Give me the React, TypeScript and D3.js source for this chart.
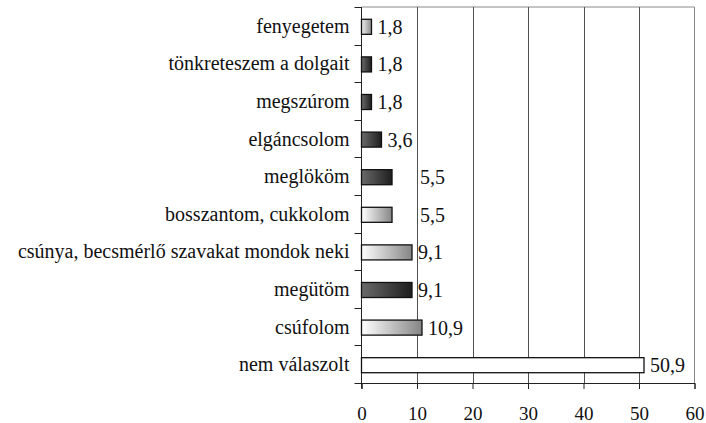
import { useRef, useEffect } from "react";
import { select, scaleLinear, scaleBand, axisBottom } from "d3";

const categories = [
  "fenyegetem",
  "tönkreteszem a dolgait",
  "megszúrom",
  "elgáncsolom",
  "meglököm",
  "bosszantom, cukkolom",
  "csúnya, becsmérlő szavakat mondok neki",
  "megütöm",
  "csúfolom",
  "nem válaszolt",
];
const values = [1.8, 1.8, 1.8, 3.6, 5.5, 5.5, 9.1, 9.1, 10.9, 50.9];
const valueLabels = ["1,8", "1,8", "1,8", "3,6", "5,5", "5,5", "9,1", "9,1", "10,9", "50,9"];
const xTicks = [0, 10, 20, 30, 40, 50, 60];

// fill style of each bar, as in the original
const shading = ["pale", "dark", "dark", "dark", "dark", "light", "light", "dark", "light", "white"];

// Excel pushed a couple of labels off to the right
const labelNudge: Record<string, number> = { meglököm: 22, "bosszantom, cukkolom": 22 };

const W = 706;
const H = 423;
const left = 361.5;
const right = 694.5;
const top = 7;
const bottom = 383;
const font = "'Times New Roman', Times, 'Liberation Serif', 'DejaVu Serif', serif";

function App() {
  const svgRef = useRef<SVGSVGElement>(null);

  useEffect(() => {
    const svg = select(svgRef.current);
    svg.selectAll("*").remove();

    const x = scaleLinear().domain([0, 60]).range([left, right]);
    const y = scaleBand().domain(categories).range([top, bottom]).paddingInner(0.6).paddingOuter(0.3);

    const defs = svg.append("defs");
    const grads: Record<string, [string, string]> = {
      pale: ["#f0f0f0", "#8c8c8c"],
      dark: ["#6a6a6a", "#1e1e1e"],
      light: ["#ffffff", "#858585"],
      white: ["#ffffff", "#ffffff"],
    };
    Object.entries(grads).forEach(([id, [c0, c1]]) => {
      const g = defs.append("linearGradient").attr("id", "g-" + id).attr("x1", "0%").attr("x2", "100%");
      g.append("stop").attr("offset", "0%").attr("stop-color", c0);
      g.append("stop").attr("offset", "100%").attr("stop-color", c1);
    });

    // frame: top & right in gray
    svg.append("line").attr("x1", left).attr("x2", right).attr("y1", top).attr("y2", top)
      .attr("stroke", "#8a8a8a").attr("stroke-width", 1);
    svg.append("line").attr("x1", right).attr("x2", right).attr("y1", top).attr("y2", bottom)
      .attr("stroke", "#8a8a8a").attr("stroke-width", 1);

    // vertical gridlines
    svg.selectAll(".grid")
      .data(xTicks.slice(1, -1))
      .join("line")
      .attr("class", "grid")
      .attr("x1", (d) => Math.round(x(d)) + 0.5)
      .attr("x2", (d) => Math.round(x(d)) + 0.5)
      .attr("y1", top)
      .attr("y2", bottom)
      .attr("stroke", "#505050");

    // x axis
    const xAxis = axisBottom(x).tickValues(xTicks).tickSize(6).tickPadding(18).tickFormat((d) => String(d));
    const gx = svg.append("g").attr("transform", `translate(0,${bottom})`).call(xAxis);
    gx.attr("font-family", font).attr("font-size", 19);
    gx.select(".domain").attr("stroke", "#222");
    gx.selectAll(".tick line").attr("stroke", "#222");
    gx.selectAll(".tick text").style("font-family", font).style("font-size", "19px").attr("fill", "#111");

    // y axis line + boundary ticks
    svg.append("line").attr("x1", left).attr("x2", left).attr("y1", top).attr("y2", bottom + 5)
      .attr("stroke", "#222");
    svg.selectAll(".ytick")
      .data(categories.map((_, i) => i).concat([categories.length]))
      .join("line")
      .attr("class", "ytick")
      .attr("x1", left - 7)
      .attr("x2", left)
      .attr("y1", (i) => Math.round(top + i * y.step()) + 0.5)
      .attr("y2", (i) => Math.round(top + i * y.step()) + 0.5)
      .attr("stroke", "#222");

    // category labels
    svg.selectAll(".cat")
      .data(categories)
      .join("text")
      .attr("class", "cat")
      .attr("x", left - 12)
      .attr("y", (d) => (y(d) as number) + y.bandwidth() / 2 + 7)
      .attr("text-anchor", "end")
      .style("font-family", font)
      .style("font-size", "20px")
      .attr("fill", "#111")
      .text((d) => d);

    // bars
    svg.selectAll(".bar")
      .data(values)
      .join("rect")
      .attr("class", "bar")
      .attr("x", x(0))
      .attr("y", (_, i) => (y(categories[i]) as number) + 1)
      .attr("width", (v) => x(v) - x(0))
      .attr("height", y.bandwidth())
      .attr("fill", (_, i) => `url(#g-${shading[i]})`)
      .attr("stroke", "#111")
      .attr("stroke-width", 1.3);

    // value labels
    svg.selectAll(".val")
      .data(values)
      .join("text")
      .attr("class", "val")
      .attr("x", (v, i) => x(v) + 6 + (labelNudge[categories[i]] || 0))
      .attr("y", (_, i) => (y(categories[i]) as number) + y.bandwidth() / 2 + 8)
      .style("font-family", font)
      .style("font-size", "20px")
      .attr("fill", "#111")
      .text((_, i) => valueLabels[i]);
  }, []);

  return (
    <svg
      ref={svgRef}
      width={W}
      height={H}
      style={{ position: "absolute", left: 0, top: 0, background: "#fff" }}
    />
  );
}

export default App;
